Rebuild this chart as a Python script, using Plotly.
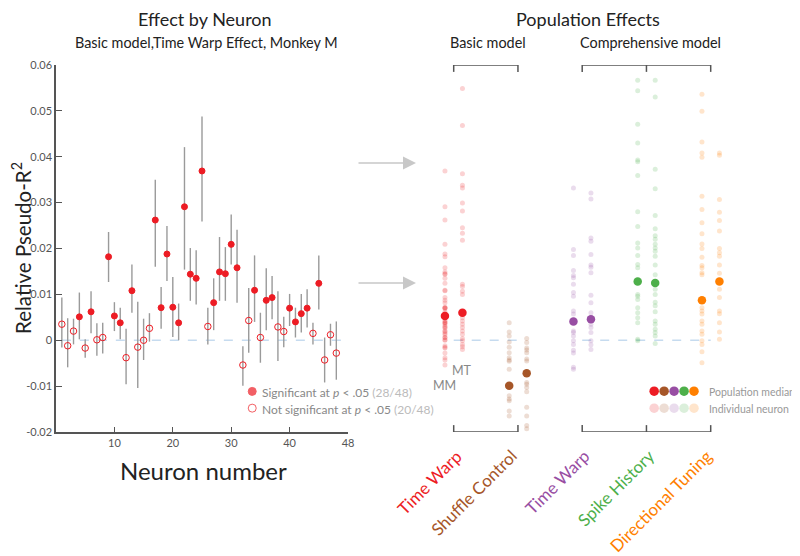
import plotly.graph_objects as go

# ---------------- data: left panel (Basic model, Time Warp effect, Monkey M) ----------------
neuron = list(range(1, 49))
tw_effect = [0.0035, -0.0012, 0.0020, 0.0051, -0.0017, 0.0062, 0.0001, 0.0006, 0.0182, 0.0053,
             0.0038, -0.0038, 0.0108, -0.0015, 0.0000, 0.0026, 0.0262, 0.0071, 0.0188, 0.0072,
             0.0038, 0.0291, 0.0144, 0.0135, 0.0369, 0.0030, 0.0082, 0.0149, 0.0145, 0.0209,
             0.0158, -0.0054, 0.0043, 0.0109, 0.0006, 0.0087, 0.0093, 0.0029, 0.0019, 0.0070,
             0.0040, 0.0058, 0.0070, 0.0015, 0.0124, -0.0043, 0.0012, -0.0028]
ci_upper = [0.0093, 0.0048, 0.0047, 0.0104, 0.0002, 0.0107, 0.0037, 0.0038, 0.0236, 0.0083,
            0.0071, 0.0025, 0.0165, 0.0084, 0.0047, 0.0059, 0.0350, 0.0116, 0.0249, 0.0138,
            0.0080, 0.0421, 0.0201, 0.0196, 0.0488, 0.0071, 0.0135, 0.0225, 0.0203, 0.0274,
            0.0241, -0.0013, 0.0114, 0.0185, 0.0060, 0.0157, 0.0140, 0.0107, 0.0051, 0.0101,
            0.0071, 0.0101, 0.0111, 0.0038, 0.0185, 0.0006, 0.0036, 0.0041]
ci_lower = [-0.0016, -0.0059, -0.0009, 0.0002, -0.0038, 0.0015, -0.0034, -0.0029, 0.0127, 0.0020,
            0.0002, -0.0096, 0.0060, -0.0104, -0.0043, -0.0003, 0.0160, 0.0025, 0.0129, 0.0007,
            0.0000, 0.0154, 0.0086, 0.0078, 0.0259, -0.0009, 0.0022, 0.0086, 0.0086, 0.0165,
            0.0082, -0.0099, -0.0027, 0.0040, -0.0049, 0.0022, 0.0046, -0.0045, -0.0015, 0.0031,
            0.0006, 0.0017, 0.0028, -0.0009, 0.0067, -0.0092, -0.0012, -0.0086]
significant = [0, 0, 0, 1, 0, 1, 0, 0, 1, 1, 1, 0, 1, 0, 0, 0, 1, 1, 1, 1, 1, 1, 1, 1, 1,
               0, 1, 1, 1, 1, 1, 0, 0, 1, 0, 1, 1, 0, 0, 1, 1, 1, 1, 0, 1, 0, 0, 0]

# ---------------- data: right panel (population effects) ----------------
effect_labels = ["Time Warp", "Shuffle Control", "Time Warp", "Spike History", "Directional Tuning"]
effect_colors = ["#ed1c24", "#a65628", "#984ea3", "#4daf4a", "#ff7f00"]
effect_faded = ["rgba(237,28,36,0.2)", "rgba(166,86,40,0.2)", "rgba(152,78,163,0.2)",
                "rgba(77,175,74,0.2)", "rgba(255,127,0,0.2)"]

tw_basic_mm = tw_effect
tw_basic_mt = [0.0549, 0.0468, 0.0363, 0.0338, 0.0332, 0.0299, 0.0282, 0.0245, 0.0233, 0.0218,
               0.0122, 0.0117, 0.0107, 0.0100, 0.0062, 0.0057, 0.0049, 0.0042, 0.0035, 0.0028,
               0.0020, 0.0013, 0.0004, -0.0001, -0.0009, -0.0014, -0.0020]
shuffle_mm = [0.0038, 0.0018, 0.0009, -0.0004, -0.0015, -0.0027, -0.0038, -0.0043, -0.0046,
              -0.0063, -0.0121, -0.0128, -0.0132, -0.0154, -0.0165]
shuffle_mt = [0.0004, -0.0005, -0.0017, -0.0021, -0.0027, -0.0041, -0.0045, -0.0092, -0.0096,
              -0.0103, -0.0112, -0.0146, -0.0165, -0.0186, -0.0193]
tw_comp_mm = [0.0332, 0.0198, 0.0185, 0.0152, 0.0141, 0.0136, 0.0122, 0.0104, 0.0096, 0.0064,
              0.0057, 0.0020, 0.0017, 0.0009, -0.0001, -0.0009, -0.0022, -0.0028, -0.0059, -0.0063]
tw_comp_mt = [0.0321, 0.0308, 0.0223, 0.0216, 0.0187, 0.0164, 0.0159, 0.0147, 0.0098, 0.0082,
              0.0060, 0.0035, 0.0028, 0.0017, -0.0001, -0.0010, -0.0020]
spike_mm = [0.0567, 0.0544, 0.0471, 0.0430, 0.0393, 0.0389, 0.0359, 0.0280, 0.0248, 0.0212,
            0.0201, 0.0185, 0.0165, 0.0158, 0.0100, 0.0096, 0.0089, 0.0071, 0.0060, 0.0049,
            0.0038, 0.0002, -0.0001]
spike_mt = [0.0567, 0.0530, 0.0373, 0.0330, 0.0272, 0.0243, 0.0228, 0.0220, 0.0209, 0.0201,
            0.0194, 0.0183, 0.0164, 0.0143, 0.0111, 0.0100, 0.0083, 0.0075, 0.0062, 0.0042,
            0.0035, 0.0024, 0.0017, 0.0009, -0.0007]
dir_mm = [0.0536, 0.0499, 0.0432, 0.0408, 0.0399, 0.0314, 0.0285, 0.0256, 0.0232, 0.0210,
          0.0200, 0.0181, 0.0163, 0.0158, 0.0147, 0.0143, 0.0071, 0.0064, 0.0057, 0.0042,
          0.0035, 0.0020, 0.0013, -0.0001, -0.0009, -0.0025, -0.0049]
dir_mt = [0.0408, 0.0403, 0.0307, 0.0279, 0.0261, 0.0238, 0.0200, 0.0191, 0.0183, 0.0164,
          0.0146, 0.0111, 0.0093, 0.0064, 0.0058, 0.0038, 0.0018, 0.0002]

individual_mm = [tw_basic_mm, shuffle_mm, tw_comp_mm, spike_mm, dir_mm]
individual_mt = [tw_basic_mt, shuffle_mt, tw_comp_mt, spike_mt, dir_mt]
median_mm = [0.0053, -0.0099, 0.0041, 0.0128, 0.0087]
median_mt = [0.0060, -0.0072, 0.0046, 0.0125, 0.0128]

y_ticks = [-0.02, -0.01, 0, 0.01, 0.02, 0.03, 0.04, 0.05, 0.06]
y_ticktext = ["-0.02", "-0.01", "0", "0.01", "0.02", "0.03", "0.04", "0.05", "0.06"]
x_ticks = [10, 20, 30, 40, 50]
x_ticktext = ["10", "20", "30", "40", "48"]

# ---------------- layout geometry ----------------
# the page body has an 8px margin: figure is 792x548, reference coords are shifted by 8
OFF = 8
W, H = 800 - OFF, 556 - OFF
ML, MR, MT_, MB = 56 - OFF, 20, 65 - OFF, 124
PW, PH = W - ML - MR, H - MT_ - MB


def px(x):  # reference pixel x -> paper
    return (x - OFF - ML) / PW


def py(y):  # reference pixel y -> paper
    return (H - MB - (y - OFF)) / PH


FONT = "Lato, 'Open Sans', sans-serif"
GREY_TXT = "#555555"
PAIR = 0.136  # half distance between MM and MT columns (group units)

fig = go.Figure()

# zero reference line (left)
fig.add_trace(go.Scatter(x=[1, 50], y=[0, 0], mode="lines", xaxis="x", yaxis="y",
                         line=dict(color="#c6dbef", width=1.5, dash="dash"),
                         hoverinfo="skip", showlegend=False))

sig_x = [n for n, s in zip(neuron, significant) if s]
ns_x = [n for n, s in zip(neuron, significant) if not s]


def pick(arr, flag):
    return [v for v, s in zip(arr, significant) if s == flag]


for flag, sym, xs in [(0, "circle-open", ns_x), (1, "circle", sig_x)]:
    vals = pick(tw_effect, flag)
    up = [u - v for u, v in zip(pick(ci_upper, flag), vals)]
    lo = [v - l for l, v in zip(pick(ci_lower, flag), vals)]
    fig.add_trace(go.Scatter(
        x=xs, y=vals, mode="markers", xaxis="x", yaxis="y", showlegend=False,
        marker=dict(symbol=sym, size=6.5 if flag == 0 else 6, color="#ed1c24",
                    line=dict(color="#ed1c24", width=1)),
        error_y=dict(type="data", symmetric=False, array=up, arrayminus=lo,
                     color="#9a9a9a", thickness=1.4, width=0)))

# right panel: zero lines per bracket group
for g0, g1 in [(1, 2), (3, 5)]:
    fig.add_trace(go.Scatter(x=[g0, g1], y=[0, 0], mode="lines", xaxis="x2", yaxis="y",
                             line=dict(color="#c6dbef", width=1.5, dash="dash"),
                             hoverinfo="skip", showlegend=False))

# individual neurons
for i in range(5):
    g = i + 1
    for vals, off in [(individual_mm[i], -PAIR), (individual_mt[i], PAIR)]:
        fig.add_trace(go.Scatter(x=[g + off] * len(vals), y=vals, mode="markers",
                                 xaxis="x2", yaxis="y", showlegend=False,
                                 marker=dict(size=5, color=effect_faded[i], line=dict(width=0))))
# medians
for i in range(5):
    g = i + 1
    fig.add_trace(go.Scatter(x=[g - PAIR, g + PAIR], y=[median_mm[i], median_mt[i]],
                             mode="markers", xaxis="x2", yaxis="y", showlegend=False,
                             marker=dict(size=8.5, color=effect_colors[i], line=dict(width=0))))

# ---------------- axes ----------------
fig.update_layout(
    width=W, height=H, margin=dict(l=ML, r=MR, t=MT_, b=MB),
    paper_bgcolor="white", plot_bgcolor="white",
    font=dict(family=FONT, color=GREY_TXT, size=11),
    xaxis=dict(domain=[0, (348 - 56) / PW], range=[0, 50], tickvals=x_ticks, ticktext=x_ticktext,
               ticks="inside", ticklen=5, tickcolor="#555", tickwidth=1.2,
               showline=True, linecolor="#555", linewidth=1.5, showgrid=False, zeroline=False,
               tickfont=dict(size=11, color=GREY_TXT), anchor="y"),
    yaxis=dict(range=[-0.02, 0.06], tickvals=y_ticks, ticktext=y_ticktext,
               ticks="inside", ticklen=6, tickcolor="#555", tickwidth=1.2,
               showline=True, linecolor="#555", linewidth=1.5, showgrid=False, zeroline=False,
               tickfont=dict(size=11, color=GREY_TXT), anchor="x"),
    xaxis2=dict(domain=[px(400), 1], range=[1 + (400 - 453.7) / 64.25, 1 + (780 - 453.7) / 64.25],
                visible=False, anchor="y"),
)

# ---------------- brackets ----------------
BR = dict(color="#555555", width=1.5)
tick_len = 0.0015
for (g0, g1, mids) in [(1, 2, []), (3, 5, [4])]:
    for yb, sgn in [(0.06, -1), (-0.02, 1)]:
        fig.add_shape(type="line", xref="x2", yref="y", x0=g0, x1=g1, y0=yb, y1=yb, line=BR)
        for gx in [g0, g1] + mids:
            fig.add_shape(type="line", xref="x2", yref="y", x0=gx, x1=gx,
                          y0=yb, y1=yb + sgn * tick_len, line=BR)

# ---------------- text ----------------
ann = []
ann.append(dict(text="Effect by Neuron", x=px(205), y=py(7), yanchor="top", borderpad=0,
                font=dict(size=18, color="#222")))
ann.append(dict(text="Basic model,Time Warp Effect, Monkey M", x=px(206), y=py(42.5),
                font=dict(size=14.4, color="#222")))
ann.append(dict(text="Population Effects", x=px(588), y=py(7), yanchor="top", borderpad=0,
                font=dict(size=18, color="#222")))
ann.append(dict(text="Basic model", x=px(488), y=py(42.5), font=dict(size=14.4, color="#222")))
ann.append(dict(text="Comprehensive model", x=px(650), y=py(42.5), font=dict(size=14.4, color="#222")))
ann.append(dict(text="Neuron number", x=px(203), y=py(470), font=dict(size=24, color="#222")))
ann.append(dict(text="Relative Pseudo-R<sup>2</sup>", x=px(21), y=py(248), textangle=-90,
                font=dict(size=20.5, color="#222")))
for a in ann:
    a.setdefault("yanchor", "middle")
    a.update(xref="paper", yref="paper", showarrow=False, xanchor="center")
    fig.add_annotation(**a)

# MT / MM labels
fig.add_annotation(text="MT", xref="x2", yref="y", x=1 + PAIR, y=-0.0067, showarrow=False,
                   font=dict(size=12.5, color="#888"))
fig.add_annotation(text="MM", xref="x2", yref="y", x=1 - PAIR, y=-0.0098, showarrow=False,
                   font=dict(size=12.5, color="#888"))

# category labels (rotated), centred below each group
label_cx = [429, 474, 556.5, 615, 660]
label_cy = [482, 493, 482, 488, 501]
for i, lab in enumerate(effect_labels):
    fig.add_annotation(text=lab, xref="paper", yref="paper", x=px(label_cx[i]), y=py(label_cy[i]),
                       showarrow=False, textangle=-45, xanchor="center", yanchor="middle",
                       font=dict(size=17, color=effect_colors[i]))

# arrows
for yy in [163, 283]:
    fig.add_annotation(text="", xref="paper", yref="paper", x=px(416), y=py(yy),
                       ax=-59, ay=0, showarrow=True, arrowhead=2, arrowsize=2,
                       arrowwidth=1.3, arrowcolor="#c8c8c8")

# left legend (filled / open markers)
fig.add_trace(go.Scatter(x=[33.6, 33.6], y=[-0.01115, -0.0148], mode="markers", xaxis="x", yaxis="y",
                         showlegend=False, hoverinfo="skip",
                         marker=dict(symbol=["circle", "circle-open"], size=[8, 8], color="#ed1c24",
                                     line=dict(color="#ed1c24", width=1))))
fig.add_annotation(text="Significant at <i>p</i> &lt; .05 <span style='color:#bbbbbb'>(28/48)</span>",
                   xref="paper", yref="paper", x=px(260), y=py(392), showarrow=False,
                   xanchor="left", yanchor="middle", font=dict(size=12, color="#888"))
fig.add_annotation(text="Not significant at <i>p</i> &lt; .05 <span style='color:#bbbbbb'>(20/48)</span>",
                   xref="paper", yref="paper", x=px(260), y=py(409), showarrow=False,
                   xanchor="left", yanchor="middle", font=dict(size=12, color="#888"))

# right legend: colored dots
leg_x = [4.12 + 0.155 * k for k in range(5)]
fig.add_trace(go.Scatter(x=leg_x, y=[-0.0111] * 5, mode="markers", xaxis="x2", yaxis="y",
                         showlegend=False, hoverinfo="skip",
                         marker=dict(size=9.5, color=effect_colors)))
fig.add_trace(go.Scatter(x=leg_x, y=[-0.0148] * 5, mode="markers", xaxis="x2", yaxis="y",
                         showlegend=False, hoverinfo="skip",
                         marker=dict(size=9.5, color=effect_faded)))
fig.add_annotation(text="Population median", xref="paper", yref="paper", x=px(707), y=py(392),
                   showarrow=False, xanchor="left", yanchor="middle", font=dict(size=10.5, color="#999"))
fig.add_annotation(text="Individual neuron", xref="paper", yref="paper", x=px(707), y=py(409),
                   showarrow=False, xanchor="left", yanchor="middle", font=dict(size=10.5, color="#999"))

fig.write_html("out.html")
